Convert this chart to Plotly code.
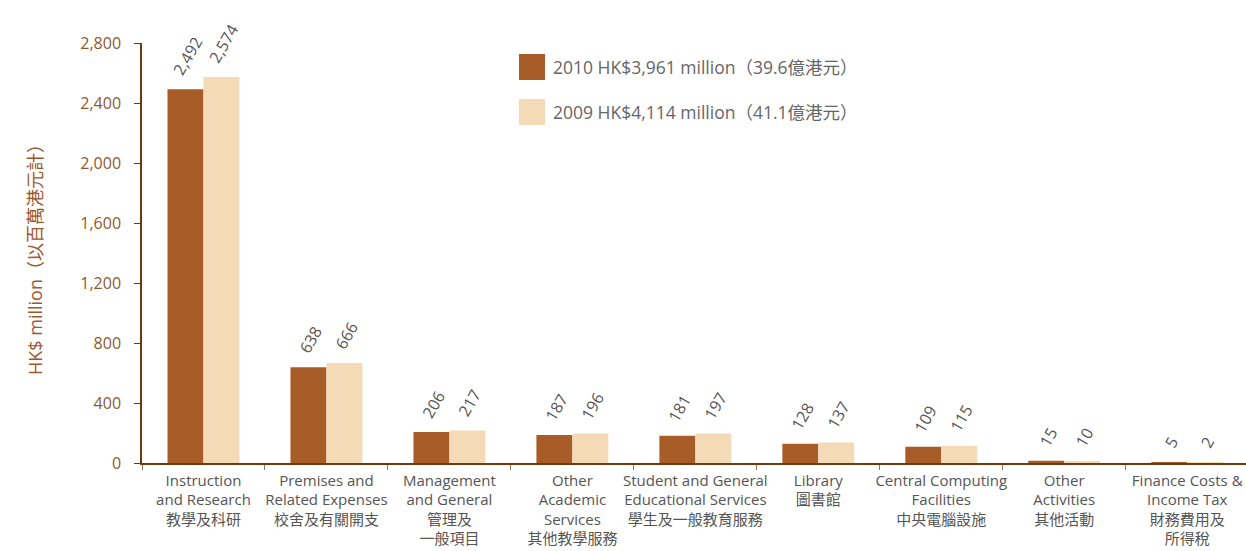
import plotly.graph_objects as go

# Expenditure by function, HK$ million
categories = [
    "Instruction<br>and Research<br>教學及科研",
    "Premises and<br>Related Expenses<br>校舍及有關開支",
    "Management<br>and General<br>管理及<br>一般項目",
    "Other<br>Academic<br>Services<br>其他教學服務",
    "Student and General<br>Educational Services<br>學生及一般教育服務",
    "Library<br>圖書館",
    "Central Computing<br>Facilities<br>中央電腦設施",
    "Other<br>Activities<br>其他活動",
    "Finance Costs &<br>Income Tax<br>財務費用及<br>所得稅",
]
values_2010 = [2492, 638, 206, 187, 181, 128, 109, 15, 5]
values_2009 = [2574, 666, 217, 196, 197, 137, 115, 10, 2]
y_ticks = [0, 400, 800, 1200, 1600, 2000, 2400, 2800]

C2010 = "#A85D28"
C2009 = "#F5DAB7"
AXIS = "#6B3A10"
TICKTXT = "#8C5A30"
FONT = "'Open Sans', 'Noto Sans CJK TC', sans-serif"

W, H = 1246, 551
ML, MR, MT, MB = 142, 0, 43, 88
plot_w = W - ML - MR
plot_h = H - MT - MB

fig = go.Figure()
for vals, color, name in [(values_2010, C2010, "2010"), (values_2009, C2009, "2009")]:
    fig.add_trace(go.Bar(
        x=categories, y=vals, name=name, marker=dict(color=color, line=dict(width=0)),
        # leading non-breaking spaces lift the slanted value labels off the bar tops
        text=[f"\u00a0\u00a0{v:,}" for v in vals], textposition="outside", textangle=-60,
        textfont=dict(family=FONT, size=16, color="#555555"),
        constraintext="none", cliponaxis=False, showlegend=False,
    ))

# Legend: swatches and labels with the yearly totals
def px_to_paper(px, py):
    return (px - ML) / plot_w, (H - MB - py) / plot_h

legend_rows = [
    (C2010, f"2010 HK${sum(values_2010):,} million（{sum(values_2010)/100:.1f}億港元）", 54),
    (C2009, f"2009 HK${sum(values_2009):,} million（{sum(values_2009)/100:.1f}億港元）", 99),
]
shapes, annotations = [], []
for color, label, top in legend_rows:
    x0, y0 = px_to_paper(519, top + 26)
    x1, y1 = px_to_paper(545, top)
    shapes.append(dict(type="rect", xref="paper", yref="paper", x0=x0, y0=y0, x1=x1, y1=y1,
                       fillcolor=color, line=dict(width=0)))
    tx, ty = px_to_paper(551, top + 13)
    annotations.append(dict(xref="paper", yref="paper", x=tx, y=ty, text=label, showarrow=False,
                            xanchor="left", yanchor="middle",
                            font=dict(family=FONT, size=17.5, color="#666666")))

# Y-axis title
tx, ty = px_to_paper(35, 255)
annotations.append(dict(xref="paper", yref="paper", x=tx, y=ty, text="HK$ million（以百萬港元計）",
                        textangle=-90, showarrow=False, xanchor="center", yanchor="middle",
                        font=dict(family=FONT, size=18, color="#9A5A2E")))

n = len(categories)
fig.update_layout(
    width=W, height=H, margin=dict(l=ML, r=MR, t=MT, b=MB),
    plot_bgcolor="white", paper_bgcolor="white",
    barmode="group", bargap=0.415, bargroupgap=0.0,
    shapes=shapes, annotations=annotations,
    font=dict(family=FONT),
)
fig.update_xaxes(
    range=[-0.5, n - 0.5 - 2.7 / 123], autorange=False,
    showline=True, linecolor=AXIS, linewidth=1.5,
    ticks="outside", tickson="boundaries", ticklen=5, tickcolor="#A07850",
    ticklabelstandoff=3,
    tickangle=0, tickfont=dict(family=FONT, size=15, color="#555555"),
    showgrid=False, zeroline=False, automargin=False,
)
fig.update_yaxes(
    range=[0, 2800], autorange=False, tickvals=y_ticks, tickformat=",",
    showline=True, linecolor=AXIS, linewidth=1.5,
    ticks="outside", ticklen=6, tickcolor=AXIS, ticklabelstandoff=10,
    tickfont=dict(family=FONT, size=16, color=TICKTXT),
    showgrid=False, zeroline=False, automargin=False,
)

fig.write_html("out.html")
